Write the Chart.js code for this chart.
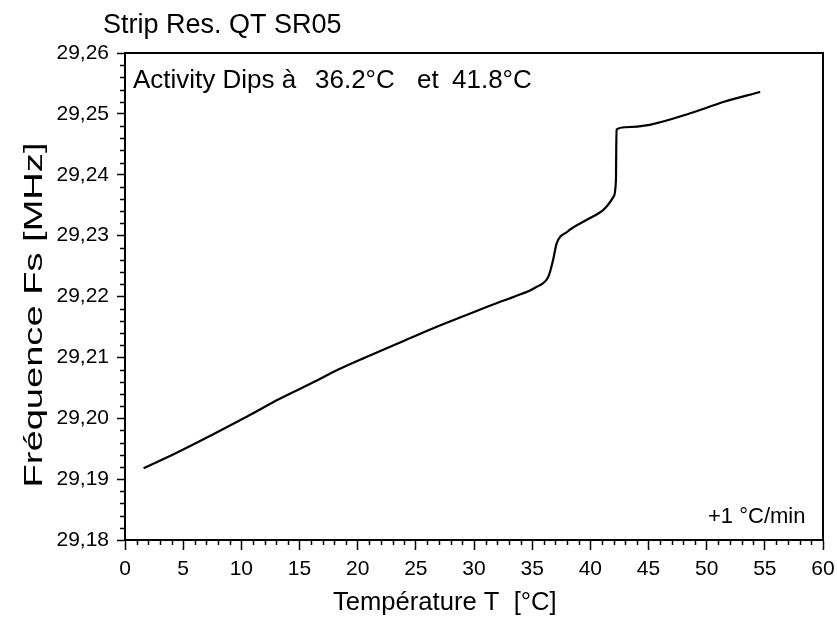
<!DOCTYPE html>
<html>
<head>
<meta charset="utf-8">
<script src="https://cdn.jsdelivr.net/npm/chart.js@4.4.1/dist/chart.umd.min.js"></script>
<style>
  body { margin: 0; background: #fff; }
  canvas { display: block; }
</style>
</head>
<body>
<canvas id="chart" width="837" height="617"></canvas>
<script>
// temperature [°C] and frequency [MHz]
const temps = [1.6, 4.4, 7.3, 10.5, 13.3, 16.5, 17.9, 20.8, 23.7, 26.5, 29.4, 32.2, 33.5, 35.4, 36.4, 36.8, 37.1, 38.0, 39.7, 41.1, 42.0, 42.2, 42.25, 43.0, 45.1, 48.6, 51.5, 54.6];
const freqs = [29.1918, 29.1943, 29.1971, 29.2003, 29.2032, 29.2062, 29.2076, 29.2101, 29.2125, 29.2148, 29.2170, 29.2191, 29.2200, 29.2216, 29.2233, 29.2260, 29.2287, 29.2306, 29.2326, 29.2342, 29.2364, 29.2391, 29.2474, 29.2478, 29.2482, 29.2501, 29.2520, 29.2536];

const xTickValues = [0, 5, 10, 15, 20, 25, 30, 35, 40, 45, 50, 55, 60];
const xTickLabels = ['0', '5', '10', '15', '20', '25', '30', '35', '40', '45', '50', '55', '60'];
const yTickValues = [29.18, 29.19, 29.20, 29.21, 29.22, 29.23, 29.24, 29.25, 29.26];
const yTickLabels = ['29,18', '29,19', '29,20', '29,21', '29,22', '29,23', '29,24', '29,25', '29,26'];

const FONT = '"Liberation Sans", Arial, sans-serif';

// minor ticks, frame and free texts
const extras = {
  id: 'extras',
  afterDraw(chart) {
    const { ctx, chartArea: a, scales: { x, y } } = chart;
    ctx.save();
    ctx.strokeStyle = '#000';
    ctx.lineWidth = 1.5;
    ctx.beginPath();
    for (let t = 0; t <= 60; t++) {
      if (t % 5 === 0) continue;
      const px = Math.round(x.getPixelForValue(t)) + 0.5;
      ctx.moveTo(px, a.bottom);
      ctx.lineTo(px, a.bottom + 5);
    }
    for (let k = 0; k <= 40; k++) {
      if (k % 5 === 0) continue;
      const py = Math.round(y.getPixelForValue(29.18 + k * 0.002)) + 0.5;
      ctx.moveTo(a.left, py);
      ctx.lineTo(a.left - 5, py);
    }
    ctx.stroke();

    ctx.lineWidth = 2;
    ctx.strokeRect(a.left, a.top, a.right - a.left, a.bottom - a.top);

    ctx.fillStyle = '#000';
    ctx.textBaseline = 'alphabetic';
    ctx.textAlign = 'left';
    ctx.font = '27px ' + FONT;
    ctx.fillText('Strip Res. QT SR05', 103, 33);

    ctx.font = '26px ' + FONT;
    ctx.fillText('Activity Dips à', 133, 88);
    ctx.fillText('36.2°C', 315, 88);
    ctx.fillText('et', 417, 88);
    ctx.fillText('41.8°C', 452, 88);

    ctx.font = '22px ' + FONT;
    ctx.fillText('+1 °C/min', 708, 523);

    ctx.font = '25.6px ' + FONT;
    ctx.fillText('Température T  [°C]', 333, 610);

    const yTitle = 'Fréquence Fs [MHz]';
    const w = ctx.measureText(yTitle).width;
    ctx.translate(42, 315);
    ctx.rotate(-Math.PI / 2);
    ctx.scale(345 / w, 1);
    ctx.textAlign = 'center';
    ctx.fillText(yTitle, 0, 0);
    ctx.restore();
  }
};

new Chart(document.getElementById('chart').getContext('2d'), {
  type: 'line',
  data: {
    datasets: [{
      data: temps.map((t, i) => ({ x: t, y: freqs[i] })),
      borderColor: '#000',
      borderWidth: 2.2,
      pointRadius: 0,
      cubicInterpolationMode: 'monotone',
      fill: false
    }]
  },
  options: {
    responsive: false,
    animation: false,
    layout: { padding: { top: 53, right: 14, left: 0, bottom: 0 } },
    plugins: { legend: { display: false }, tooltip: { enabled: false } },
    scales: {
      x: {
        type: 'linear',
        min: 0,
        max: 60,
        afterBuildTicks: s => { s.ticks = xTickValues.map(v => ({ value: v })); },
        afterFit: s => { s.height = 77; s.paddingLeft = 0; s.paddingRight = 0; },
        grid: { display: true, drawOnChartArea: false, drawTicks: true, tickLength: 10, tickColor: '#000', tickWidth: 1.5 },
        border: { display: true, color: '#000', width: 2 },
        ticks: { color: '#000', font: { family: FONT, size: 21 }, padding: 7, maxRotation: 0, autoSkip: false,
          callback: (v, i) => xTickLabels[i] }
      },
      y: {
        type: 'linear',
        min: 29.18,
        max: 29.26,
        afterBuildTicks: s => { s.ticks = yTickValues.map(v => ({ value: v })); },
        afterFit: s => { s.width = 125; s.paddingTop = 0; s.paddingBottom = 0; },
        grid: { display: true, drawOnChartArea: false, drawTicks: true, tickLength: 8, tickColor: '#000', tickWidth: 1.5 },
        border: { display: true, color: '#000', width: 2 },
        ticks: { color: '#000', font: { family: FONT, size: 21 }, padding: 8, autoSkip: false,
          callback: (v, i) => yTickLabels[i] }
      }
    }
  },
  plugins: [extras]
});
</script>
</body>
</html>
